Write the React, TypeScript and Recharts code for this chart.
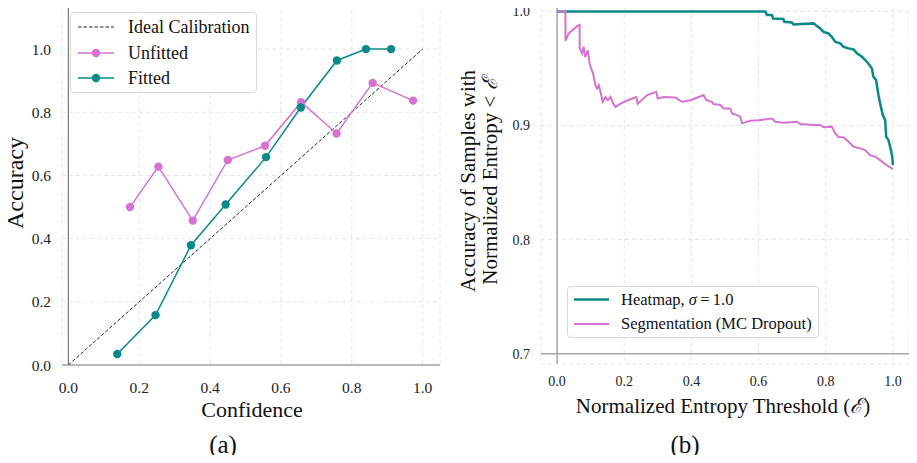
import React from 'react';
import { LineChart, Line, XAxis, YAxis, CartesianGrid, ReferenceLine } from 'recharts';

// ---------- (a) Calibration data ----------
const idealConf = [0, 1];
const idealAcc = [0, 1];
const unfittedConf = [0.174, 0.254, 0.351, 0.45, 0.555, 0.657, 0.757, 0.859, 0.973];
const unfittedAcc = [0.5, 0.628, 0.457, 0.649, 0.694, 0.832, 0.733, 0.893, 0.837];
const fittedConf = [0.138, 0.246, 0.346, 0.444, 0.558, 0.656, 0.758, 0.84, 0.911];
const fittedAcc = [0.035, 0.158, 0.379, 0.508, 0.658, 0.815, 0.964, 1.0, 1.0];
const calibTicks = [0, 0.2, 0.4, 0.6, 0.8, 1.0];

// ---------- (b) Entropy threshold data ----------
const heatmapThresh = [0, 0.62, 0.625, 0.64, 0.643, 0.674, 0.6765, 0.699, 0.704, 0.764, 0.774, 0.784, 0.7935, 0.808, 0.818, 0.828, 0.843, 0.853, 0.868, 0.883, 0.893, 0.908, 0.9176, 0.927, 0.9375, 0.942, 0.95, 0.957, 0.962, 0.97, 0.977, 0.98, 0.987, 0.994, 0.998, 1.0];
const heatmapAcc = [1.0, 1.0, 0.9968, 0.9968, 0.9938, 0.9933, 0.9909, 0.9903, 0.9886, 0.9895, 0.9871, 0.985, 0.982, 0.9807, 0.9777, 0.9734, 0.972, 0.969, 0.9676, 0.9667, 0.9632, 0.9602, 0.9573, 0.9544, 0.95, 0.9427, 0.9398, 0.9267, 0.9194, 0.9091, 0.9047, 0.89, 0.8872, 0.8785, 0.8726, 0.8653];
const segThresh = [0, 0.0247, 0.0249, 0.0345, 0.0595, 0.067, 0.0672, 0.0744, 0.079, 0.084, 0.091, 0.097, 0.101, 0.107, 0.114, 0.119, 0.124, 0.129, 0.136, 0.144, 0.151, 0.159, 0.167, 0.1735, 0.188, 0.2, 0.218, 0.236, 0.24, 0.268, 0.2955, 0.2995, 0.317, 0.352, 0.372, 0.397, 0.436, 0.4443, 0.461, 0.466, 0.486, 0.496, 0.516, 0.521, 0.536, 0.5455, 0.551, 0.575, 0.6, 0.64, 0.65, 0.674, 0.714, 0.724, 0.764, 0.784, 0.7935, 0.818, 0.8283, 0.838, 0.853, 0.868, 0.883, 0.9027, 0.9176, 0.932, 0.947, 0.962, 0.977, 0.997, 1.0];
const segAcc = [1.0, 1.0, 0.9742, 0.9807, 0.9871, 0.988, 0.9676, 0.9632, 0.969, 0.96, 0.966, 0.9544, 0.95, 0.9457, 0.9354, 0.9325, 0.9354, 0.9296, 0.9208, 0.925, 0.9222, 0.925, 0.9194, 0.9164, 0.919, 0.9208, 0.923, 0.925, 0.919, 0.9267, 0.9296, 0.9237, 0.925, 0.9245, 0.9208, 0.9222, 0.9267, 0.9222, 0.9208, 0.9188, 0.918, 0.915, 0.915, 0.9106, 0.9091, 0.9076, 0.9019, 0.9041, 0.9047, 0.9062, 0.9033, 0.9024, 0.9033, 0.9013, 0.9004, 0.9004, 0.8984, 0.899, 0.893, 0.89, 0.8897, 0.8857, 0.8814, 0.88, 0.8785, 0.874, 0.8726, 0.8697, 0.8662, 0.8624, 0.8618];
const entropyXTicks = [0, 0.2, 0.4, 0.6, 0.8, 1.0];
const entropyYTicks = [0.7, 0.8, 0.9, 1.0];

const zip = (xs: number[], ys: number[]) => xs.map((x, i) => ({ x, y: ys[i] }));

const idealData = zip(idealConf, idealAcc);
const unfittedData = zip(unfittedConf, unfittedAcc);
const fittedData = zip(fittedConf, fittedAcc);
const heatmapData = zip(heatmapThresh, heatmapAcc);
const segData = zip(segThresh, segAcc);

const TEAL = '#0a8a87';
const ORCHID = '#d672cf';
const FONT = '"Liberation Serif", "DejaVu Serif", serif';
const GRID = '#e6e6e6';

const fmt = (v: number) => v.toFixed(1);

const abs = (left: number, top: number, size: number, rotate = false): React.CSSProperties => ({
  position: 'absolute',
  left,
  top,
  fontSize: size,
  fontFamily: FONT,
  color: '#111',
  whiteSpace: 'nowrap',
  lineHeight: 1,
  transform: `translate(-50%, -50%)${rotate ? ' rotate(-90deg)' : ''}`,
});

export default function App() {
  return (
    <div style={{ position: 'relative', width: 917, height: 463, background: '#fff', margin: -8, overflow: 'hidden', fontFamily: FONT }}>
      {/* ---------- (a) ---------- */}
      <div style={{ position: 'absolute', left: 0, top: 0 }}>
        <LineChart width={460} height={463} margin={{ top: 3, right: 20, bottom: 0, left: 0 }}>
          <CartesianGrid stroke={GRID} strokeDasharray="4 3" />
          <XAxis
            type="number"
            dataKey="x"
            domain={[-0.018, 1.049]}
            ticks={calibTicks}
            tickFormatter={fmt}
            allowDataOverflow
            axisLine={{ stroke: '#7a7a7a', strokeWidth: 1.2 }}
            tickLine={false}
            tickSize={0}
            tickMargin={17}
            height={98}
            tick={{ fill: '#222', fontSize: 15.5, fontFamily: FONT }}
          />
          <YAxis
            type="number"
            dataKey="y"
            domain={[0, 1.146]}
            ticks={calibTicks}
            tickFormatter={fmt}
            allowDataOverflow
            width={62}
            axisLine={false}
            tickLine={false}
            tickSize={0}
            tickMargin={11}
            tick={{ fill: '#222', fontSize: 15.5, fontFamily: FONT }}
          />
          <ReferenceLine x={0} stroke="#7a7a7a" strokeWidth={1.2} />
          <Line data={idealData} dataKey="y" stroke="#222" strokeWidth={1} strokeDasharray="3.5 2" dot={false} isAnimationActive={false} />
          <Line data={unfittedData} dataKey="y" stroke={ORCHID} strokeWidth={1.5} dot={{ r: 4.2, fill: ORCHID, stroke: ORCHID, strokeWidth: 0 }} isAnimationActive={false} />
          <Line data={fittedData} dataKey="y" stroke={TEAL} strokeWidth={1.5} dot={{ r: 4.2, fill: TEAL, stroke: TEAL, strokeWidth: 0 }} isAnimationActive={false} />
        </LineChart>
      </div>

      {/* legend (a) */}
      <div style={{ position: 'absolute', left: 70, top: 12, width: 187, height: 81, border: '1px solid #d8d8d8', borderRadius: 4, background: 'rgba(255,255,255,0.85)', boxSizing: 'border-box' }}>
        <svg width={50} height={81} style={{ position: 'absolute', left: 0, top: 0 }}>
          <line x1={7} x2={43} y1={14} y2={14} stroke="#222" strokeWidth={1} strokeDasharray="3.5 2" />
          <line x1={7} x2={43} y1={40} y2={40} stroke={ORCHID} strokeWidth={1.5} />
          <circle cx={25} cy={40} r={4.2} fill={ORCHID} />
          <line x1={7} x2={43} y1={65} y2={65} stroke={TEAL} strokeWidth={1.5} />
          <circle cx={25} cy={65} r={4.2} fill={TEAL} />
        </svg>
        <div style={{ position: 'absolute', left: 57, top: 14, transform: 'translateY(-50%)', fontSize: 18, lineHeight: 1, whiteSpace: 'nowrap', color: '#111' }}>Ideal Calibration</div>
        <div style={{ position: 'absolute', left: 57, top: 40, transform: 'translateY(-50%)', fontSize: 18, lineHeight: 1, whiteSpace: 'nowrap', color: '#111' }}>Unfitted</div>
        <div style={{ position: 'absolute', left: 57, top: 65, transform: 'translateY(-50%)', fontSize: 18, lineHeight: 1, whiteSpace: 'nowrap', color: '#111' }}>Fitted</div>
      </div>

      <div style={abs(15, 183, 24, true)}>Accuracy</div>
      <div style={abs(252, 410, 22)}>Confidence</div>
      <div style={abs(223, 444, 25)}>(a)</div>

      {/* ---------- (b) ---------- */}
      <div style={{ position: 'absolute', left: 460, top: 0 }}>
        <LineChart width={457} height={463} margin={{ top: 0, right: 8, bottom: 0, left: 0 }}>
          <CartesianGrid stroke={GRID} strokeDasharray="4 3" />
          <XAxis
            type="number"
            dataKey="x"
            domain={[-0.048, 1.048]}
            ticks={entropyXTicks}
            tickFormatter={fmt}
            allowDataOverflow
            axisLine={false}
            tickLine={false}
            tickSize={0}
            tickMargin={12}
            height={99}
            tick={{ fill: '#222', fontSize: 14, fontFamily: FONT }}
          />
          <YAxis
            type="number"
            dataKey="y"
            domain={[0.691, 1.01]}
            ticks={entropyYTicks}
            tickFormatter={fmt}
            allowDataOverflow
            width={81}
            axisLine={false}
            tickLine={false}
            tickSize={0}
            tickMargin={11}
            tick={{ fill: '#222', fontSize: 14, fontFamily: FONT }}
          />
          <ReferenceLine y={0.7} stroke="#a8a8a8" strokeWidth={1.5} />
          <ReferenceLine x={0} stroke="#a8a8a8" strokeWidth={1.5} />
          <Line data={heatmapData} dataKey="y" stroke={TEAL} strokeWidth={2.5} dot={false} isAnimationActive={false} />
          <Line data={segData} dataKey="y" stroke={ORCHID} strokeWidth={2} dot={false} isAnimationActive={false} />
        </LineChart>
      </div>

      {/* legend (b) */}
      <div style={{ position: 'absolute', left: 567, top: 286, width: 252, height: 52, border: '1px solid #d8d8d8', borderRadius: 4, background: 'rgba(255,255,255,0.85)', boxSizing: 'border-box' }}>
        <svg width={50} height={52} style={{ position: 'absolute', left: 0, top: 0 }}>
          <line x1={6} x2={41} y1={12.5} y2={12.5} stroke={TEAL} strokeWidth={2.5} />
          <line x1={6} x2={41} y1={37} y2={37} stroke={ORCHID} strokeWidth={2} />
        </svg>
        <div style={{ position: 'absolute', left: 53, top: 12.5, transform: 'translateY(-50%)', fontSize: 16.5, lineHeight: 1, whiteSpace: 'nowrap', color: '#111' }}>
          Heatmap, <i>σ</i>{'\u2009=\u20091.0'}
        </div>
        <div style={{ position: 'absolute', left: 53, top: 37, transform: 'translateY(-50%)', fontSize: 16.5, lineHeight: 1, whiteSpace: 'nowrap', color: '#111' }}>
          Segmentation (MC Dropout)
        </div>
      </div>

      <div style={abs(468, 181, 21, true)}>Accuracy of Samples with</div>
      <div style={abs(490, 181, 21, true)}>
        Normalized Entropy {'< '}<i>ℰ</i>
      </div>
      <div style={abs(723, 406, 21)}>
        Normalized Entropy Threshold (<i>ℰ</i>)
      </div>
      <div style={abs(685, 444, 25)}>(b)</div>
    </div>
  );
}
